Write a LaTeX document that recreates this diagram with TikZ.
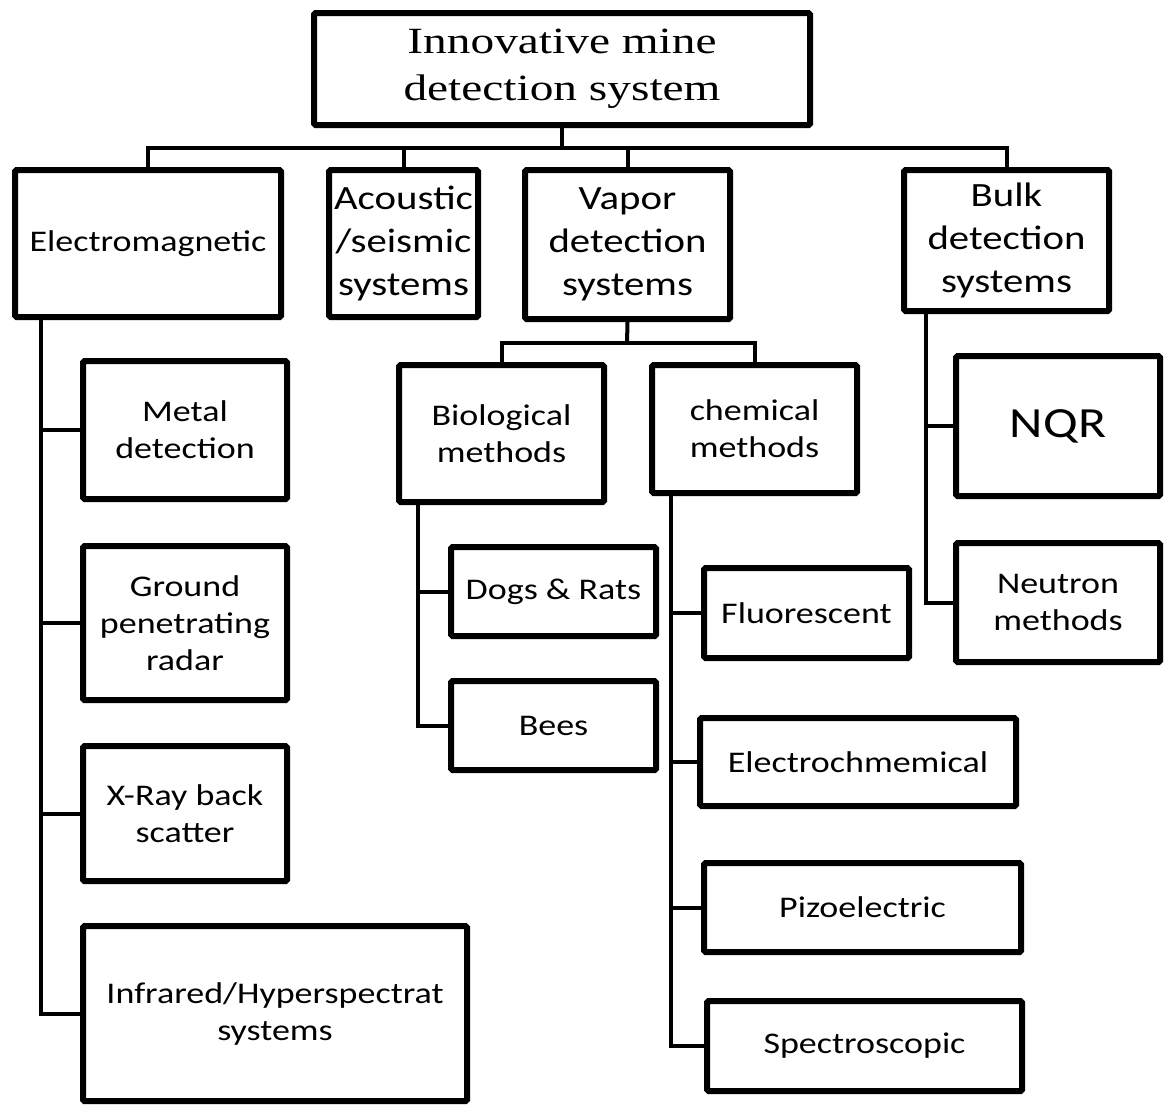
\documentclass[tikz,border=0pt]{standalone}
\usepackage{fontspec}
\usepackage{tikz}
\usetikzlibrary{calc,shadows}
\newfontfamily\boxfont[FakeStretch=1.2]{Carlito}
\newfontfamily\headfont[FakeStretch=1.28]{Liberation Serif}

\begin{document}
\begin{tikzpicture}[x=1pt,y=-1pt,
    box/.style={draw=black, line width=6pt, rounded corners=1.5pt, fill=white,
      inner sep=0pt, align=center,
      drop shadow={shadow xshift=2pt, shadow yshift=-2pt, opacity=0.3},
      font=\boxfont\fontsize{30}{37}\selectfont},
    bigbox/.style={box, font=\boxfont\fontsize{34}{43}\selectfont},
    link/.style={draw=black, line width=4pt}]
    \useasboundingbox (0,0) rectangle (1165,1106);

    \node[box, font=\headfont\fontsize{37}{47}\selectfont, minimum width=496pt, minimum height=112pt] (title) at (562,69) {Innovative mine\\detection system};

    \node[box, minimum width=266pt, minimum height=147pt] (em) at (148,243.5) {Electromagnetic};
    \node[bigbox, minimum width=149pt, minimum height=147pt] (acou) at (403.5,243.5) {Acoustic\\/seismic\\systems};
    \node[bigbox, minimum width=205pt, minimum height=149pt] (vapor) at (627.5,244.5) {Vapor\\detection\\systems};
    \node[bigbox, minimum width=205pt, minimum height=141pt] (bulk) at (1006.5,240.5) {Bulk\\detection\\systems};

    \node[box, minimum width=204pt, minimum height=138pt] (metal) at (185,430) {Metal\\detection};
    \node[box, minimum width=204pt, minimum height=154pt] (gpr) at (185,623) {Ground\\penetrating\\radar};
    \node[box, minimum width=204pt, minimum height=135pt] (xray) at (185,813.5) {X-Ray back\\scatter};
    \node[box, minimum width=384pt, minimum height=175pt] (ir) at (275,1013.5) {Infrared/Hyperspectrat\\systems};

    \node[box, minimum width=205pt, minimum height=137pt] (bio) at (501.5,433.5) {Biological\\methods};
    \node[box, minimum width=205pt, minimum height=128pt] (chem) at (754.5,429) {chemical\\methods};
    \node[box, minimum width=205pt, minimum height=89pt] (dogs) at (553.5,591.5) {Dogs \& Rats};
    \node[box, minimum width=205pt, minimum height=89pt] (bees) at (553.5,725.5) {Bees};

    \node[box, minimum width=205pt, minimum height=90pt] (fluor) at (806.5,613) {Fluorescent};
    \node[box, minimum width=316pt, minimum height=88pt] (echem) at (858,762) {Electrochmemical};
    \node[box, minimum width=317pt, minimum height=89pt] (pizo) at (862.5,907.5) {Pizoelectric};
    \node[box, minimum width=315pt, minimum height=90pt] (spec) at (864.5,1046) {Spectroscopic};

    \node[box, font=\boxfont\fontsize{43}{50}\selectfont, minimum width=204pt, minimum height=140pt] (nqr) at (1058,426) {NQR};
    \node[box, minimum width=204pt, minimum height=119pt] (neut) at (1058,602.5) {Neutron\\methods};

    \coordinate (bus) at (562,148);
    \draw[link] (title.south) -- (bus);
    \draw[link] (em.north) |- (bus) -| (bulk.north);
    \foreach \n in {acou,vapor}
      \draw[link] (\n.north) -- (\n.north |- bus);

    \coordinate (emtrunk) at (41,0);
    \draw[link] (em.south -| emtrunk) |- (ir.west);
    \foreach \n in {metal,gpr,xray}
      \draw[link] (\n.west) -- (\n.west -| emtrunk);

    \coordinate (vbus) at (627,343);
    \draw[link] (vapor.south) -- (vbus);
    \draw[link] (bio.north) |- (vbus) -| (chem.north);

    \coordinate (biotrunk) at (418,0);
    \draw[link] (bio.south -| biotrunk) |- (bees.west);
    \draw[link] (dogs.west) -- (dogs.west -| biotrunk);

    \coordinate (chemtrunk) at (671,0);
    \draw[link] (chem.south -| chemtrunk) |- (spec.west);
    \foreach \n in {fluor,echem,pizo}
      \draw[link] (\n.west) -- (\n.west -| chemtrunk);

    \coordinate (bulktrunk) at (926,0);
    \draw[link] (bulk.south -| bulktrunk) |- (neut.west);
    \draw[link] (nqr.west) -- (nqr.west -| bulktrunk);
\end{tikzpicture}
\end{document}
